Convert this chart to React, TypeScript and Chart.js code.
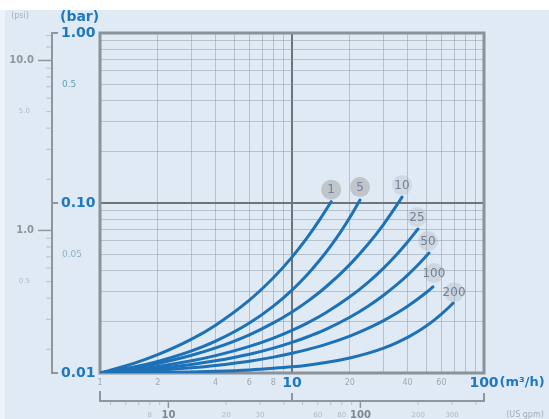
import React, { useEffect, useRef } from "react";
import { Chart, registerables } from "chart.js";

Chart.register(...registerables);

// ---------- data ----------
const seriesNames = ["1", "5", "10", "25", "50", "100", "200"];

// [flow m³/h, pressure drop bar]
const curve1 = [[1, 0.01], [1.5, 0.0114], [2, 0.01282], [3, 0.01582], [4, 0.01912], [6, 0.02681], [8, 0.03631], [10, 0.04806], [12, 0.06251], [14, 0.0803], [16, 0.1018]];
const curve5 = [[1, 0.01], [1.5, 0.01085], [2, 0.01171], [3, 0.01349], [4, 0.01539], [6, 0.01968], [8, 0.02474], [10, 0.03074], [12, 0.03787], [14, 0.04634], [16, 0.05635], [18, 0.06815], [20, 0.08209], [22.6, 0.104]];
const curve10 = [[1, 0.01], [1.5, 0.0107], [2, 0.01138], [3, 0.01271], [4, 0.01404], [6, 0.01678], [8, 0.01971], [10, 0.02287], [12, 0.0263], [15, 0.03205], [20, 0.04342], [25, 0.05754], [30, 0.07495], [35, 0.09649], [37.4, 0.1083]];
const curve25 = [[1, 0.01], [1.5, 0.01048], [2, 0.01093], [3, 0.0118], [4, 0.01265], [6, 0.01433], [8, 0.01605], [10, 0.01782], [12, 0.01967], [15, 0.02262], [20, 0.02807], [25, 0.03429], [30, 0.04142], [35, 0.04961], [40, 0.05896], [45.3, 0.07031]];
const curve50 = [[1, 0.01], [1.5, 0.01033], [2, 0.01063], [3, 0.01122], [4, 0.01179], [6, 0.01289], [8, 0.014], [10, 0.01513], [12, 0.01628], [15, 0.01807], [20, 0.02128], [25, 0.0248], [30, 0.02867], [35, 0.03297], [40, 0.03769], [45, 0.04291], [51.7, 0.0508]];
const curve100 = [[1, 0.01], [1.5, 0.0102], [2, 0.01038], [3, 0.01074], [4, 0.01108], [6, 0.01174], [8, 0.0124], [10, 0.01306], [12, 0.01372], [15, 0.01473], [20, 0.01649], [25, 0.01835], [30, 0.02033], [35, 0.02245], [40, 0.02471], [45, 0.02713], [50, 0.02975], [54.2, 0.0321]];
const curve200 = [[1, 0.01], [2, 0.01007], [3, 0.01015], [4, 0.01024], [6, 0.01043], [8, 0.01065], [10, 0.01087], [12, 0.01112], [15, 0.01152], [20, 0.01226], [25, 0.01309], [30, 0.01401], [35, 0.01506], [40, 0.01621], [45, 0.01748], [50, 0.0189], [55, 0.02048], [60, 0.0222], [65, 0.02411], [69, 0.02576]];
const curves = [curve1, curve5, curve10, curve25, curve50, curve100, curve200];

const xGridValues = [1, 2, 3, 4, 5, 6, 7, 8, 9, 10, 20, 30, 40, 50, 60, 70, 80, 90, 100];
const yGridValues = [0.01, 0.02, 0.03, 0.04, 0.05, 0.06, 0.07, 0.08, 0.09, 0.1, 0.2, 0.3, 0.4, 0.5, 0.6, 0.7, 0.8, 0.9, 1];

const barMajorTicks = [1, 0.1, 0.01];
const barMajorLabels = ["1.00", "0.10", "0.01"];
const barMinorTicks = [0.5, 0.05];
const barMinorLabels = ["0.5", "0.05"];

const PSI_PER_BAR = 14.5038;
const psiMajorTicks = [10, 1];
const psiMajorLabels = ["10.0", "1.0"];
const psiFaintTicks = [5, 0.5];
const psiFaintLabels = ["5.0", "0.5"];
const psiMinorTicks = [0.2, 0.3, 0.4, 0.5, 0.6, 0.7, 0.8, 0.9, 2, 3, 4, 5, 6, 7, 8, 9, 12, 14];

const flowSmallTicks = [1, 2, 4, 6, 8, 20, 40, 60];
const flowSmallLabels = ["1", "2", "4", "6", "8", "20", "40", "60"];
const flowBoldTicks = [10, 100];
const flowBoldLabels = ["10", "100"];
const flowUnit = "(m³/h)";

const GPM_PER_M3H = 4.40287;
const gpmBoldTicks = [10, 100];
const gpmBoldLabels = ["10", "100"];
const gpmFaintTicks = [8, 20, 30, 60, 80, 200, 300];
const gpmFaintLabels = ["8", "20", "30", "60", "80", "200", "300"];
const gpmMinorTicks = [5, 6, 7, 8, 9, 20, 30, 40, 50, 60, 70, 80, 90, 200, 300, 400];
const gpmUnit = "(US gpm)";

// ---------- styles ----------
const BLUE = "#1e78c2";
const CURVE = "#1c71b8";
const FRAME = "#8a929a";
const AXIS = "#8e969e";
const labelFill = ["rgba(165,165,165,0.55)", "rgba(165,165,165,0.55)", "rgba(175,180,185,0.3)", "rgba(175,180,185,0.3)", "rgba(175,180,185,0.35)", "rgba(175,180,185,0.35)", "rgba(175,180,185,0.35)"];
const labelDx = [0, 0, 0, -1, -1, 1, 1];
const labelDy = [-12, -13, -12, -12, -12, -14, -11];

const isDecade = (v: number) => Math.abs(Math.log10(v) - Math.round(Math.log10(v))) < 1e-6;

const bgPlugin = {
  id: "bg",
  beforeDraw(chart: any) {
    const { ctx, width, height } = chart;
    ctx.save();
    ctx.fillStyle = "#dfeaf5";
    ctx.fillRect(0, 0, width, height);
    ctx.fillStyle = "#ffffff";
    ctx.fillRect(0, 0, width, 10);
    ctx.fillStyle = "#edf3f9";
    ctx.fillRect(0, 10, 5, height - 10);
    ctx.restore();
  },
};

const framePlugin = {
  id: "frame",
  beforeDatasetsDraw(chart: any) {
    const { ctx } = chart;
    const { left, right, top, bottom } = chart.chartArea;
    ctx.save();
    ctx.strokeStyle = FRAME;
    ctx.lineWidth = 3;
    ctx.strokeRect(left, top, right - left, bottom - top);
    ctx.restore();
  },
};

function text(ctx: any, s: string, x: number, y: number, font: string, color: string, align: CanvasTextAlign = "left") {
  ctx.font = font;
  ctx.fillStyle = color;
  ctx.textAlign = align;
  ctx.textBaseline = "middle";
  ctx.fillText(s, x, y);
}

const axesPlugin = {
  id: "axesText",
  afterDraw(chart: any) {
    const { ctx } = chart;
    const xs = chart.scales.x;
    const ys = chart.scales.y;
    const { left, right, top, bottom } = chart.chartArea;
    ctx.save();

    // ---- curve labels ----
    curves.forEach((_, i) => {
      const meta = chart.getDatasetMeta(i);
      const pt = meta.data[meta.data.length - 1];
      const cx = pt.x + labelDx[i];
      const cy = pt.y + labelDy[i];
      ctx.beginPath();
      ctx.arc(cx, cy, 10, 0, Math.PI * 2);
      ctx.fillStyle = labelFill[i];
      ctx.fill();
      text(ctx, seriesNames[i], cx, cy + 0.5, '12px "DejaVu Sans"', "#6f8296", "center");
    });

    // ---- left axis line (bar / psi) ----
    const lineX = left - 48;
    ctx.strokeStyle = AXIS;
    ctx.lineWidth = 2;
    ctx.beginPath();
    ctx.moveTo(lineX + 6, top);
    ctx.lineTo(lineX, top);
    ctx.lineTo(lineX, bottom);
    ctx.lineTo(lineX + 6, bottom);
    ctx.stroke();
    ctx.beginPath();
    ctx.moveTo(lineX, ys.getPixelForValue(0.1));
    ctx.lineTo(lineX + 6, ys.getPixelForValue(0.1));
    ctx.stroke();

    barMajorTicks.forEach((v, i) => {
      text(ctx, barMajorLabels[i], lineX + 9, ys.getPixelForValue(v), 'bold 14px "DejaVu Sans"', BLUE);
    });
    barMinorTicks.forEach((v, i) => {
      text(ctx, barMinorLabels[i], lineX + 10, ys.getPixelForValue(v), '9px "DejaVu Sans"', i === 0 ? "#5f9fb7" : "#8fb2c4");
    });
    text(ctx, "(bar)", lineX + 8, 17, 'bold 14px "DejaVu Sans"', BLUE);

    // psi ticks
    ctx.lineWidth = 1;
    ctx.strokeStyle = "rgba(150,158,166,0.55)";
    psiMinorTicks.forEach((p) => {
      const y = ys.getPixelForValue(p / PSI_PER_BAR);
      ctx.beginPath();
      ctx.moveTo(lineX - 6, y);
      ctx.lineTo(lineX, y);
      ctx.stroke();
    });
    ctx.strokeStyle = "#8f979f";
    ctx.lineWidth = 1.5;
    psiMajorTicks.forEach((p, i) => {
      const y = ys.getPixelForValue(p / PSI_PER_BAR);
      ctx.beginPath();
      ctx.moveTo(lineX - 14, y);
      ctx.lineTo(lineX, y);
      ctx.stroke();
      text(ctx, psiMajorLabels[i], lineX - 18, y, 'bold 10px "DejaVu Sans"', "#8e969e", "right");
    });
    psiFaintTicks.forEach((p, i) => {
      const y = ys.getPixelForValue(p / PSI_PER_BAR);
      text(ctx, psiFaintLabels[i], lineX - 22, y, '7px "DejaVu Sans"', "#b3bcc5", "right");
    });
    text(ctx, "(psi)", 20, 16, '8px "DejaVu Sans"', "#a7b0b9", "center");

    // ---- bottom m³/h labels ----
    const ly = bottom + 10;
    flowSmallTicks.forEach((v, i) => {
      text(ctx, flowSmallLabels[i], xs.getPixelForValue(v), ly, '8px "DejaVu Sans"', "#9ea8b2", "center");
    });
    flowBoldTicks.forEach((v, i) => {
      text(ctx, flowBoldLabels[i], xs.getPixelForValue(v), ly, 'bold 14px "DejaVu Sans"', BLUE, "center");
    });
    const x100 = xs.getPixelForValue(100);
    ctx.font = 'bold 14px "DejaVu Sans"';
    const w100 = ctx.measureText(flowBoldLabels[1]).width;
    text(ctx, flowUnit, x100 + w100 / 2 + 1, ly, 'bold 13px "DejaVu Sans"', BLUE);

    // ---- second bottom axis (US gpm) ----
    const by = bottom + 28;
    ctx.strokeStyle = AXIS;
    ctx.lineWidth = 2;
    ctx.beginPath();
    ctx.moveTo(left, by - 10);
    ctx.lineTo(left, by);
    ctx.lineTo(right, by);
    ctx.lineTo(right, by - 8);
    ctx.stroke();
    ctx.beginPath();
    ctx.moveTo(xs.getPixelForValue(10), by);
    ctx.lineTo(xs.getPixelForValue(10), by - 8);
    ctx.stroke();
    ctx.lineWidth = 1;
    ctx.strokeStyle = "rgba(150,158,166,0.5)";
    gpmMinorTicks.forEach((g) => {
      const x = xs.getPixelForValue(g / GPM_PER_M3H);
      ctx.beginPath();
      ctx.moveTo(x, by);
      ctx.lineTo(x, by + 4);
      ctx.stroke();
    });
    ctx.strokeStyle = AXIS;
    ctx.lineWidth = 1.5;
    gpmBoldTicks.forEach((g, i) => {
      const x = xs.getPixelForValue(g / GPM_PER_M3H);
      ctx.beginPath();
      ctx.moveTo(x, by);
      ctx.lineTo(x, by + 7);
      ctx.stroke();
      text(ctx, gpmBoldLabels[i], x, by + 14, 'bold 10px "DejaVu Sans"', "#7f8890", "center");
    });
    gpmFaintTicks.forEach((g, i) => {
      const x = xs.getPixelForValue(g / GPM_PER_M3H);
      text(ctx, gpmFaintLabels[i], x, by + 14, '7px "DejaVu Sans"', "#b2bac2", "center");
    });
    text(ctx, gpmUnit, 525, by + 14, '8px "DejaVu Sans"', "#a5aeb7", "center");

    ctx.restore();
  },
};

export default function App() {
  const ref = useRef<HTMLCanvasElement | null>(null);

  useEffect(() => {
    if (!ref.current) return;
    const chart = new Chart(ref.current, {
      type: "line",
      data: {
        datasets: curves.map((c, i) => ({
          label: seriesNames[i],
          data: c.map(([x, y]) => ({ x, y })),
          borderColor: CURVE,
          borderWidth: 3,
          pointRadius: 0,
          fill: false,
          cubicInterpolationMode: "monotone" as const,
          borderCapStyle: "round" as const,
        })),
      },
      options: {
        animation: false,
        responsive: false,
        events: [],
        layout: { padding: { left: 100, top: 33, right: 65, bottom: 46 } },
        plugins: { legend: { display: false }, tooltip: { enabled: false } },
        scales: {
          x: {
            type: "logarithmic",
            min: 1,
            max: 100,
            afterBuildTicks: (scale: any) => {
              scale.ticks = xGridValues.map((v) => ({ value: v }));
            },
            ticks: { display: false },
            border: { display: false },
            grid: {
              drawTicks: false,
              color: (ctx: any) => {
                const v = ctx.tick?.value;
                if (v === 1 || v === 100) return "rgba(0,0,0,0)";
                return isDecade(v) ? "#6c747c" : "rgba(140,152,164,0.5)";
              },
              lineWidth: (ctx: any) => (isDecade(ctx.tick?.value) ? 2 : 1),
            },
          },
          y: {
            type: "logarithmic",
            min: 0.01,
            max: 1,
            afterBuildTicks: (scale: any) => {
              scale.ticks = yGridValues.map((v) => ({ value: v }));
            },
            ticks: { display: false },
            border: { display: false },
            grid: {
              drawTicks: false,
              color: (ctx: any) => {
                const v = ctx.tick?.value;
                if (v === 0.01 || v === 1) return "rgba(0,0,0,0)";
                return isDecade(v) ? "#6c747c" : "rgba(140,152,164,0.5)";
              },
              lineWidth: (ctx: any) => (isDecade(ctx.tick?.value) ? 2 : 1),
            },
          },
        },
      },
      plugins: [bgPlugin, framePlugin, axesPlugin],
    });
    return () => chart.destroy();
  }, []);

  return (
    <div style={{ position: "fixed", left: 0, top: 0, width: 549, height: 419 }}>
      <canvas ref={ref} width={549} height={419} style={{ width: 549, height: 419, display: "block" }} />
    </div>
  );
}
